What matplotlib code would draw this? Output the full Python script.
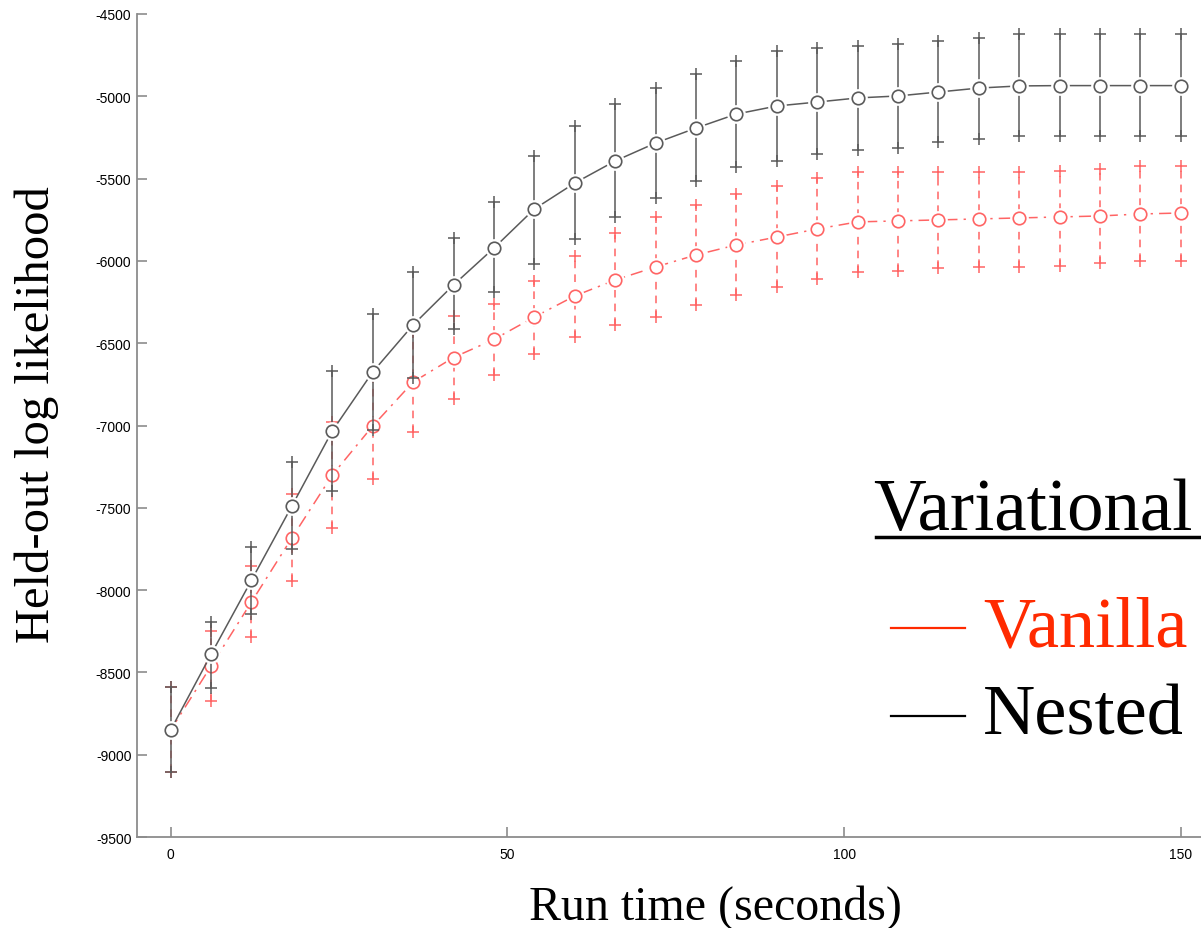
import matplotlib
matplotlib.use("Agg")
import matplotlib.pyplot as plt
from matplotlib.lines import Line2D

# run time (seconds)
run_time = [0, 6, 12, 18, 24, 30, 36, 42, 48, 54, 60, 66, 72, 78, 84,
            90, 96, 102, 108, 114, 120, 126, 132, 138, 144, 150]

# nested variational
nested_mean = [-8850, -8390, -7940, -7489, -7033, -6675, -6389, -6146, -5922,
               -5685, -5527, -5393, -5284, -5193, -5108, -5059, -5035, -5010,
               -4998, -4974, -4950, -4937, -4935, -4935, -4935, -4935]
nested_upper = [-8590, -8194, -7738, -7222, -6669, -6322, -6067, -5861, -5642,
                -5363, -5180, -5047, -4950, -4865, -4785, -4725, -4707, -4694,
                -4680, -4664, -4646, -4622, -4622, -4622, -4622, -4622]
nested_lower = [-9105, -8595, -8145, -7750, -7398, -7028, -6711, -6414, -6189,
                -6019, -5867, -5733, -5618, -5514, -5430, -5393, -5351, -5326,
                -5312, -5278, -5260, -5241, -5241, -5241, -5241, -5241]

# vanilla variational
vanilla_mean = [-8850, -8461, -8072, -7683, -7301, -7003, -6736, -6587, -6477,
                -6341, -6213, -6116, -6037, -5964, -5903, -5855, -5806, -5763,
                -5757, -5751, -5745, -5739, -5733, -5727, -5715, -5709]
vanilla_upper = [-8590, -8248, -7853, -7416, -6980, -6681, -6433, -6335, -6262,
                 -6122, -5970, -5831, -5733, -5660, -5594, -5545, -5496, -5460,
                 -5457, -5460, -5460, -5460, -5454, -5442, -5424, -5424]
vanilla_lower = [-9105, -8674, -8285, -7944, -7623, -7325, -7039, -6839, -6693,
                 -6566, -6462, -6389, -6341, -6268, -6207, -6158, -6110, -6067,
                 -6061, -6043, -6037, -6037, -6031, -6013, -6000, -6000]

x_ticks = [0, 50, 100, 150]
y_ticks = [-9500, -9000, -8500, -8000, -7500, -7000, -6500, -6000, -5500, -5000, -4500]

BLACK = "#5a5a5a"
RED = "#ff6464"
LEG_RED = "#ff2a00"
SERIF = ["Liberation Serif", "DejaVu Serif"]

plt.rcParams["axes.unicode_minus"] = False

fig = plt.figure(figsize=(12.01, 9.29), dpi=100)
ax = fig.add_axes([137 / 1201, 91 / 929, 1064 / 1201, 823 / 929])


def draw_series(mean, upper, lower, color, ls_err, ls_line, z):
    ax.vlines(run_time, lower, upper, colors=color, linestyles=ls_err,
              linewidth=1.1, zorder=z)
    ax.plot(run_time, mean, color=color, linestyle=ls_line, linewidth=1.1, zorder=z)
    ax.plot(run_time, upper, "+", color=color, markersize=9, mew=1.1, zorder=z)
    ax.plot(run_time, lower, "+", color=color, markersize=9, mew=1.1, zorder=z)
    # white halo to leave gaps round the circles
    ax.plot(run_time, mean, "o", color="white", markersize=13.5, mew=0, zorder=z + 0.5)
    ax.plot(run_time, mean, "o", mfc="none", mec=color, markersize=9, mew=1.2,
            zorder=z + 0.6)


draw_series(vanilla_mean, vanilla_upper, vanilla_lower, RED, (0, (5, 4)), (0, (8, 4, 1.5, 4)), 2)
draw_series(nested_mean, nested_upper, nested_lower, BLACK, "-", "-", 3)

ax.set_xlim(-5, 153)
ax.set_ylim(-9500, -4500)
ax.set_xticks(x_ticks)
ax.set_yticks(y_ticks)
ax.spines["top"].set_visible(False)
ax.spines["right"].set_visible(False)
for s in ("left", "bottom"):
    ax.spines[s].set_color("#8c8c8c")
    ax.spines[s].set_linewidth(1.3)
ax.tick_params(direction="in", length=7.5, width=1.2, color="#8c8c8c",
               labelsize=10)
ax.tick_params(axis="y", pad=4)
ax.tick_params(axis="x", pad=7)
for lab in ax.get_xticklabels() + ax.get_yticklabels():
    lab.set_fontfamily(["Liberation Sans", "DejaVu Sans"])

ax.set_xlabel("Run time (seconds)", fontsize=34.5, family=SERIF)
ax.xaxis.set_label_coords(0.544, -0.057)
ax.set_ylabel("Held-out log likelihood", fontsize=35, family=SERIF)
ax.yaxis.set_label_coords(-0.073, 0.515)

# legend drawn by hand
fig.text(1193 / 1201, 1 - 530 / 929, "Variational", ha="right", va="baseline",
         fontsize=52.5, family=SERIF, color="black")
fig.add_artist(Line2D([876 / 1201, 1.0], [1 - 538 / 929, 1 - 538 / 929],
                      color="black", linewidth=2.5))
fig.add_artist(Line2D([891 / 1201, 965 / 1201], [1 - 629 / 929, 1 - 629 / 929],
                      color=LEG_RED, linewidth=1.6))
fig.text(983 / 1201, 1 - 647 / 929, "Vanilla", ha="left", va="baseline",
         fontsize=52, family=SERIF, color=LEG_RED)
fig.add_artist(Line2D([891 / 1201, 965 / 1201], [1 - 717 / 929, 1 - 717 / 929],
                      color="black", linewidth=1.6))
fig.text(983 / 1201, 1 - 735 / 929, "Nested", ha="left", va="baseline",
         fontsize=52, family=SERIF, color="black")

fig.savefig("out.png", dpi=100)
